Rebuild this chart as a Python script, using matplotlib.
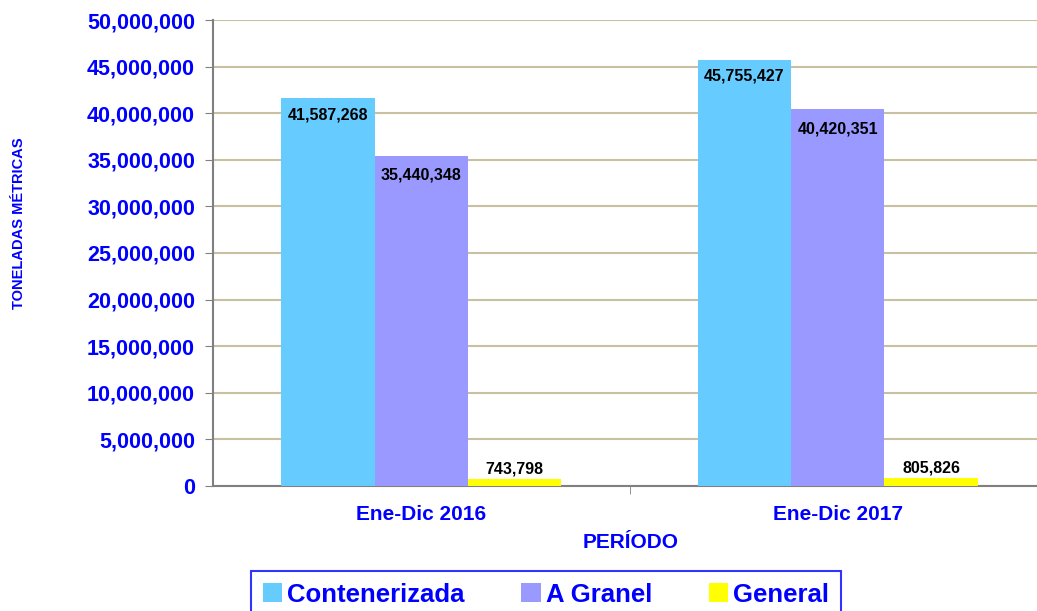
import numpy as np
import matplotlib.pyplot as plt
from matplotlib.ticker import FuncFormatter

plt.rcParams['font.family'] = ['Liberation Sans', 'DejaVu Sans']
plt.rcParams['font.weight'] = 'bold'

# datos
periodos = ['Ene-Dic 2016', 'Ene-Dic 2017']
series = ['Contenerizada', 'A Granel', 'General']
contenerizada = [41587268, 45755427]
granel = [35440348, 40420351]
general = [743798, 805826]
colores = ['#66CCFF', '#9999FF', '#FFFF00']

azul = '#0000FF'

fig = plt.figure(figsize=(10.37, 6.11), dpi=100)
ax = fig.add_axes([213 / 1037, 1 - 486 / 611, 833 / 1037, 466 / 611])

x = np.arange(len(periodos))
w = 0.224
valores = [contenerizada, granel, general]
barras = []
for i, (vals, col, nom) in enumerate(zip(valores, colores, series)):
    b = ax.bar(x + (i - 1) * w, vals, w, color=col, label=nom, zorder=3)
    barras.append(b)

# etiquetas de datos
for b in barras[0]:
    ax.text(b.get_x() + b.get_width() / 2, b.get_height() - 1000000, f'{int(b.get_height()):,}',
            ha='center', va='top', fontsize=11.5, fontweight='bold', zorder=4)
for b in barras[1]:
    ax.text(b.get_x() + b.get_width() / 2, b.get_height() - 1300000, f'{int(b.get_height()):,}',
            ha='center', va='top', fontsize=11.5, fontweight='bold', zorder=4)
for b in barras[2]:
    ax.text(b.get_x() + b.get_width() / 2, b.get_height() + 300000, f'{int(b.get_height()):,}',
            ha='center', va='bottom', fontsize=11.5, fontweight='bold', zorder=4)

ax.set_xlim(-0.5, 1.5)
ax.set_ylim(0, 50000000)
ax.set_yticks(np.arange(0, 50000001, 5000000))
ax.yaxis.set_major_formatter(FuncFormatter(lambda v, p: f'{int(v):,}'))
ax.grid(axis='y', color='#C8C0A0', linewidth=1.5, zorder=0)

ax.set_xticks(x)
ax.set_xticklabels(periodos)
ax.set_xticks([0.5], minor=True)
ax.tick_params(axis='x', which='major', length=0, pad=14, labelsize=15, labelcolor=azul)
ax.tick_params(axis='x', which='minor', length=6, color='#808080', direction='out')
ax.tick_params(axis='y', length=6, color='#808080', labelsize=15.5, labelcolor=azul, pad=7)
for t in ax.get_xticklabels() + ax.get_yticklabels():
    t.set_fontweight('bold')

for s in ['top', 'right']:
    ax.spines[s].set_visible(False)
for s in ['left', 'bottom']:
    ax.spines[s].set_color('#808080')
    ax.spines[s].set_linewidth(1.5)

fig.text(631 / 1037, 1 - 543 / 611, 'PERÍODO', ha='center', va='center',
         fontsize=15, fontweight='bold', color=azul)
fig.text(19 / 1037, 1 - 223 / 611, 'TONELADAS MÉTRICAS', ha='center', va='center',
         rotation=90, fontsize=10.5, fontweight='bold', color=azul)

leg = fig.legend(loc='upper center', bbox_to_anchor=(546 / 1037, 1 - 571 / 611), ncol=3,
                 fontsize=18.5, frameon=True, fancybox=False, handlelength=0.75,
                 handleheight=0.75, handletextpad=0.2, columnspacing=2.2,
                 borderpad=0.45, borderaxespad=0)
leg.get_frame().set_edgecolor(azul)
leg.get_frame().set_linewidth(1.5)
for t in leg.get_texts():
    t.set_color(azul)
    t.set_fontweight('bold')

fig.savefig('out.png', dpi=100)
